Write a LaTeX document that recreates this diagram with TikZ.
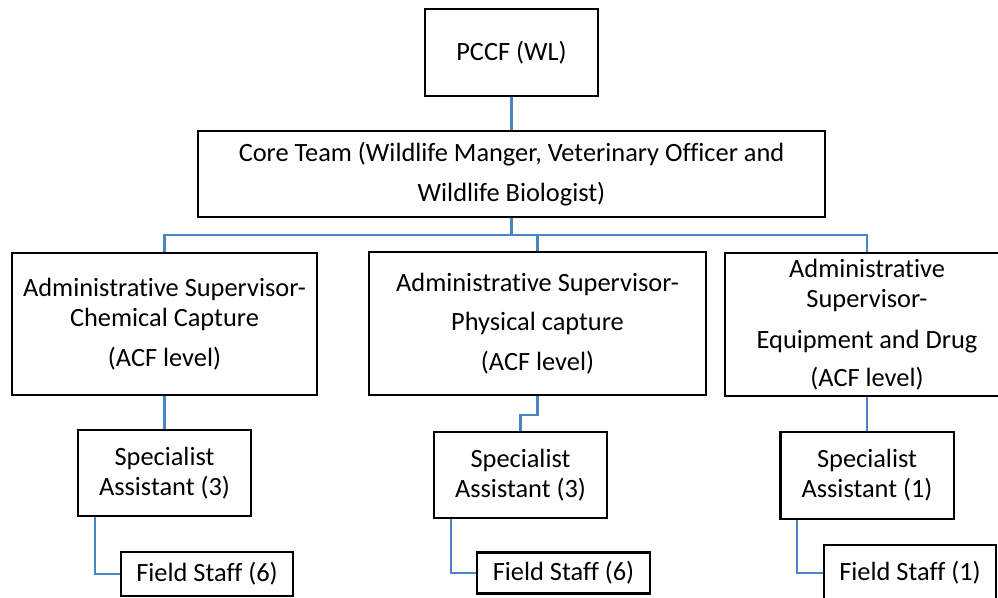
\documentclass[tikz,border=0pt]{standalone}
\usepackage{fontspec}
\setmainfont{Carlito}[Ligatures=NoCommon]
\definecolor{cLink}{HTML}{4A86C5}
\tikzset{
  box/.style={draw=black, line width=0.6pt, align=center, inner sep=0pt,
    font=\fontsize{7.5}{8.5}\selectfont},
  link/.style={draw=cLink, line width=0.6pt},
}

\begin{document}
\begin{tikzpicture}[x=0.01cm, y=-0.01cm]
    \clip (0,0) rectangle (998,597);
    % top levels
    \node[box, minimum width=1.73cm, minimum height=0.87cm] (pccf) at (511.5,52.5) {PCCF (WL)};
    \node[box, minimum width=6.27cm, minimum height=0.86cm] (core) at (511.5,174)
      {Core Team (Wildlife Manger, Veterinary Officer and\\[2.8pt] Wildlife Biologist)};
    % supervisors
    \node[box, minimum width=3.05cm, minimum height=1.42cm] (supChem) at (164.5,324)
      {Administrative Supervisor-\\ Chemical Capture\\[2.8pt] (ACF level)};
    \node[box, minimum width=3.37cm, minimum height=1.43cm] (supPhys) at (537.5,323.5)
      {Administrative Supervisor-\\[2.8pt] Physical capture\\[2.8pt] (ACF level)};
    \node[box, minimum width=2.84cm, minimum height=1.43cm] (supEquip) at (867,324.5)
      {Administrative\\ Supervisor-\\[3.2pt] Equipment and Drug\\[2.4pt] (ACF level)};
    % specialists
    \node[box, minimum width=1.73cm, minimum height=0.86cm] (specChem) at (164.5,473)
      {Specialist\\ Assistant (3)};
    \node[box, minimum width=1.73cm, minimum height=0.86cm] (specPhys) at (520.5,475)
      {Specialist\\ Assistant (3)};
    \node[box, minimum width=1.73cm, minimum height=0.87cm] (specEquip) at (867,475.5)
      {Specialist\\ Assistant (1)};
    % field staff
    \node[box, minimum width=1.72cm, minimum height=0.44cm] (fieldChem) at (207,574) {Field Staff (6)};
    \node[box, minimum width=1.73cm, minimum height=0.41cm] (fieldPhys) at (563.5,573) {Field Staff (6)};
    \node[box, minimum width=1.72cm, minimum height=0.56cm] (fieldEquip) at (910,573) {Field Staff (1)};
    % links
    \draw[link] (pccf) -- (core);
    \foreach \n in {supChem, supPhys, supEquip}
      \draw[link] (core.south) -- (511.5,235) -| (\n);
    \draw[link] (supChem) -- (specChem);
    \draw[link] (supPhys.south) -- ++(0,19) -| (specPhys);
    \draw[link] (supEquip) -- (specEquip);
    \foreach \s/\f in {specChem/fieldChem, specPhys/fieldPhys, specEquip/fieldEquip}
      \draw[link] (\s.south west) ++(18,0) |- (\f);
\end{tikzpicture}
\end{document}
